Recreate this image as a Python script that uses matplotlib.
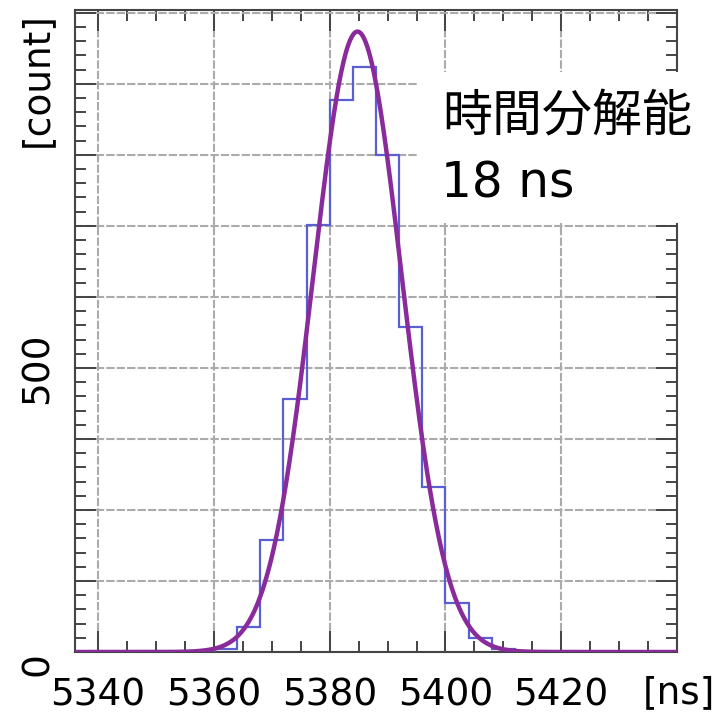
import numpy as np
import matplotlib.pyplot as plt
from matplotlib.patches import Rectangle
from matplotlib.ticker import MultipleLocator

plt.rcParams['font.family'] = ['DejaVu Sans', 'Noto Sans CJK JP']

# histogram: 4 ns bins starting at 5360 ns
bin_start = 5360
bin_width = 4
counts = [5, 44, 197, 445, 752, 972, 1030, 875, 572, 290, 86, 25, 6]

# gaussian fit (peak height, mean, FWHM in ns)
fit_peak = 1092
fit_mean = 5384.8
fit_fwhm = 18

x_ticks = [5340, 5360, 5380, 5400, 5420]
y_ticks = [0, 125, 250, 375, 500, 625, 750, 875, 1000, 1125]
y_tick_labels = ['0', '', '', '', '500', '', '', '', '', '']

W = 721
fig = plt.figure(figsize=(W / 100, W / 100), dpi=100)
ax = fig.add_axes([75 / W, 1 - 652 / W, (677 - 75) / W, (652 - 10) / W])

edges = bin_start + bin_width * np.arange(len(counts) + 1)
ax.stairs(counts, edges, color='#5a5fd2', lw=1.6, zorder=3)

sigma = fit_fwhm / (2 * np.sqrt(2 * np.log(2)))
xs = np.linspace(5336, 5440, 800)
ax.plot(xs, fit_peak * np.exp(-0.5 * ((xs - fit_mean) / sigma) ** 2),
        color='#8a2b9c', lw=3.2, zorder=4, solid_capstyle='butt')

ax.set_xlim(5336, 5440)
ax.set_ylim(0, 1130)
ax.set_xticks(x_ticks)
ax.set_yticks(y_ticks)
ax.set_yticklabels(y_tick_labels, rotation=90, va='center')
ax.xaxis.set_minor_locator(MultipleLocator(5))
ax.yaxis.set_minor_locator(MultipleLocator(25))

ax.grid(True, which='major', color='#ababab', lw=1.5, ls=(0, (4, 1.0)), zorder=1)
ax.tick_params(which='both', direction='in', top=True, right=True,
               color='#444444', width=1.4)
ax.tick_params(which='major', length=15, labelsize=27)
ax.tick_params(axis='x', which='major', pad=18)
ax.tick_params(axis='y', which='major', pad=14)
ax.tick_params(which='minor', length=8)
for s in ax.spines.values():
    s.set_color('#444444')
    s.set_linewidth(1.5)

ax.get_yticklabels()[0].set_va('top')

# annotation panel over the upper-right corner
fig.patches.append(Rectangle((418 / W, 1 - 223 / W), (W - 418) / W, (223 - 72) / W,
                             transform=fig.transFigure, facecolor='white',
                             edgecolor='none', zorder=5))
fig.text(442 / W, 1 - 118 / W, '時間分解能', fontsize=36, ha='left', va='center', zorder=6)
fig.text(441 / W, 1 - 183 / W, '18 ns', fontsize=35, ha='left', va='center', zorder=6)

fig.text(37 / W, 1 - 80 / W, '[count]', fontsize=27, rotation=90,
         ha='center', va='center')
fig.text(679 / W, 1 - 693 / W, '[ns]', fontsize=27, ha='center', va='center')

fig.savefig('out.png', dpi=100)
